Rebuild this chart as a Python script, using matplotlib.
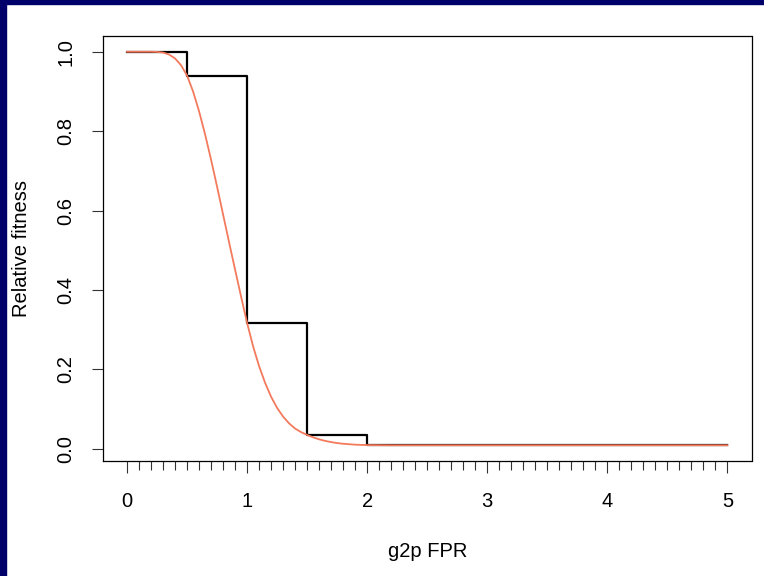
import numpy as np
import matplotlib.pyplot as plt
from matplotlib.patches import Rectangle
from matplotlib.ticker import FixedLocator

plt.rcParams['font.family'] = ['Liberation Sans', 'DejaVu Sans']

# step function (binned relative fitness)
step_x = [0, 0.5, 1.0, 1.5, 2.0, 5.0]
step_y = [1.0, 0.94, 0.317, 0.035, 0.009, 0.009]

# smooth fitted curve
curve_x = [0, 0.1, 0.2, 0.25, 0.3, 0.35, 0.4, 0.45, 0.5, 0.55, 0.6, 0.65,
           0.7, 0.75, 0.8, 0.85, 0.9, 0.95, 1.0, 1.05, 1.1, 1.15, 1.2, 1.25,
           1.3, 1.35, 1.4, 1.45, 1.5, 1.55, 1.6, 1.65, 1.7, 1.75, 1.8, 1.9,
           2.0, 2.2, 3.0, 4.0, 5.0]
curve_y = [1.0, 1.0, 1.0, 0.9995, 0.998, 0.993, 0.983, 0.966, 0.94, 0.90, 0.85,
           0.792, 0.728, 0.66, 0.59, 0.52, 0.451, 0.383, 0.317, 0.258, 0.208,
           0.166, 0.131, 0.103, 0.081, 0.064, 0.051, 0.042, 0.035, 0.029,
           0.024, 0.020, 0.017, 0.0145, 0.0128, 0.0105, 0.0095, 0.009, 0.009,
           0.009, 0.009]

x_ticks = [0, 1, 2, 3, 4, 5]
y_ticks = [0.0, 0.2, 0.4, 0.6, 0.8, 1.0]

fig = plt.figure(figsize=(7.64, 5.76), dpi=100)
ax = fig.add_axes([103/764, 1 - 461/576, (751.5 - 103)/764, (461 - 36)/576])

ax.step(step_x, step_y, where='post', color='black', lw=1.6, zorder=2)
ax.plot(curve_x, curve_y, color='#F37A5C', lw=1.3, zorder=3)

ax.set_xlim(-0.2, 5.2)
ax.set_ylim(-0.0306, 1.0396)
ax.set_xticks(x_ticks)
ax.set_xticklabels([str(v) for v in x_ticks])
ax.xaxis.set_minor_locator(FixedLocator([i / 10 for i in range(51)]))
ax.set_yticks(y_ticks)
ax.set_yticklabels(['%.1f' % v for v in y_ticks])

for s in ax.spines.values():
    s.set_linewidth(0.9)
ax.tick_params(axis='x', which='major', direction='out', length=8.6, width=0.8,
               pad=14, labelsize=14.5, color='#333333')
ax.tick_params(axis='x', which='minor', direction='out', length=6.5, width=0.8,
               color='#333333')
ax.tick_params(axis='y', which='major', direction='out', length=8, width=0.8,
               pad=12, labelsize=14.5, labelrotation=90, color='#333333')
for lab in ax.get_yticklabels():
    lab.set_va('center')

ax.set_xlabel('g2p FPR', fontsize=14.5, labelpad=22)
ax.set_ylabel('Relative fitness', fontsize=14.5, labelpad=18)

# navy frame on left and top
fig.patches.append(Rectangle((0, 0), 6/764, 1, transform=fig.transFigure,
                             color='#00006B', zorder=10))
fig.patches.append(Rectangle((0, 1 - 4/576), 1, 4/576, transform=fig.transFigure,
                             color='#00006B', zorder=10))

fig.savefig('out.png', dpi=100)
